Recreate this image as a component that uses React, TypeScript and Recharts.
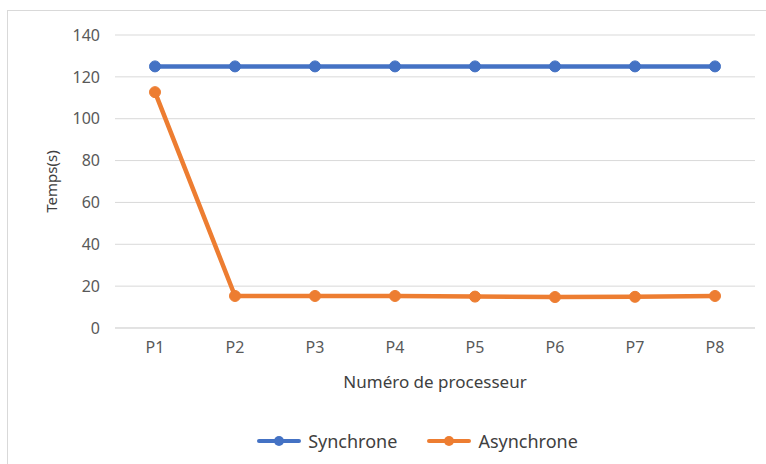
import React from 'react';
import { LineChart, Line, XAxis, YAxis, CartesianGrid, Legend } from 'recharts';

const processors = ['P1', 'P2', 'P3', 'P4', 'P5', 'P6', 'P7', 'P8'];
const synchrone = [125, 125, 125, 125, 125, 125, 125, 125];
const asynchrone = [112.7, 15.3, 15.3, 15.3, 15.0, 14.8, 14.9, 15.3];
const yTicks = [0, 20, 40, 60, 80, 100, 120, 140];

const data = processors.map((name, i) => ({
  name,
  Synchrone: synchrone[i],
  Asynchrone: asynchrone[i],
}));

const FONT = '"Noto Sans", "Open Sans", sans-serif';
const TEXT = '#595959';

export default function App() {
  return (
    <div style={{ position: 'absolute', left: 0, top: 0, width: 766, height: 464, overflow: 'hidden', background: '#fff', fontFamily: FONT }}>
      <div style={{ position: 'absolute', left: 7, top: 10, width: 800, height: 500, border: '1px solid #d9d9d9' }} />
      <LineChart
        width={766}
        height={464}
        data={data}
        margin={{ top: 35, right: 11, left: 0, bottom: 8 }}
        style={{ position: 'absolute', left: 0, top: 0 }}
      >
        <CartesianGrid horizontal vertical={false} stroke="#d9d9d9" strokeWidth={1} />
        <XAxis
          dataKey="name"
          height={98}
          padding={{ left: 40, right: 40 }}
          axisLine={{ stroke: '#d9d9d9' }}
          tickLine={false}
          tickMargin={8}
          tick={{ fontSize: 16, fill: TEXT, fontFamily: FONT }}
          label={{ value: 'Numéro de processeur', position: 'center', dy: 5, fontSize: 17, fill: '#404040', fontFamily: FONT }}
        />
        <YAxis
          width={115}
          domain={[0, 140]}
          ticks={yTicks}
          axisLine={false}
          tickLine={false}
          tickMargin={9}
          tick={{ fontSize: 16, fill: TEXT, fontFamily: FONT }}
          label={{ value: 'Temps(s)', angle: -90, position: 'center', dx: -6, fontSize: 15, fill: '#404040', fontFamily: FONT }}
        />
        <Legend
          verticalAlign="bottom"
          height={30}
          iconSize={0}
          content={() => (
            <div style={{ display: 'flex', justifyContent: 'center', alignItems: 'center', gap: 30, marginLeft: 80, height: 30 }}>
              {[
                { name: 'Synchrone', color: '#4472C4' },
                { name: 'Asynchrone', color: '#ED7D31' },
              ].map((s) => (
                <div key={s.name} style={{ display: 'flex', alignItems: 'center', gap: 7 }}>
                  <svg width={44} height={12}>
                    <line x1={2} y1={6} x2={42} y2={6} stroke={s.color} strokeWidth={4} strokeLinecap="round" />
                    <circle cx={22} cy={6} r={5} fill={s.color} />
                  </svg>
                  <span style={{ fontSize: 18, color: '#404040', fontFamily: FONT }}>{s.name}</span>
                </div>
              ))}
            </div>
          )}
        />
        <Line
          type="linear"
          dataKey="Synchrone"
          stroke="#4472C4"
          strokeWidth={4.5}
          dot={{ r: 5.5, fill: '#4472C4', stroke: '#4472C4', strokeWidth: 1 }}
          isAnimationActive={false}
        />
        <Line
          type="linear"
          dataKey="Asynchrone"
          stroke="#ED7D31"
          strokeWidth={4.5}
          dot={{ r: 5.5, fill: '#ED7D31', stroke: '#ED7D31', strokeWidth: 1 }}
          isAnimationActive={false}
        />
      </LineChart>
    </div>
  );
}
